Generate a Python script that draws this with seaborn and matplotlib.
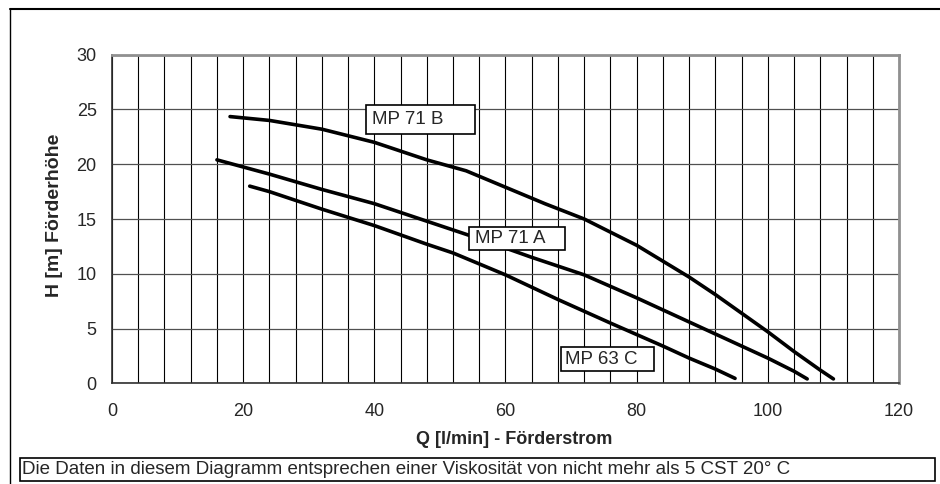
import numpy as np
import pandas as pd
import seaborn as sns
import matplotlib.pyplot as plt
from matplotlib.ticker import MultipleLocator
from matplotlib.patches import Rectangle
from matplotlib.lines import Line2D

# pump curves
q_b = [18, 24, 32, 40, 48, 54, 60, 66, 72, 80, 88, 92, 96, 100, 104, 108, 110]
h_b = [24.35, 24.0, 23.2, 22.0, 20.4, 19.4, 17.9, 16.4, 15.0, 12.6, 9.7, 8.1, 6.4, 4.7, 2.9, 1.2, 0.4]
q_a = [16, 24, 32, 40, 48, 56, 64, 72, 80, 88, 92, 96, 100, 104, 106]
h_a = [20.4, 19.1, 17.7, 16.4, 14.8, 13.2, 11.5, 9.9, 7.8, 5.6, 4.5, 3.4, 2.3, 1.1, 0.4]
q_c = [21, 24, 32, 40, 48, 52, 60, 68, 76, 80, 84, 88, 92, 95]
h_c = [18.0, 17.5, 15.9, 14.4, 12.7, 11.9, 9.9, 7.65, 5.5, 4.45, 3.4, 2.3, 1.3, 0.45]

pumps = ['MP 71 B', 'MP 71 A', 'MP 63 C']

x_ticks = [0, 20, 40, 60, 80, 100, 120]
y_ticks = [0, 5, 10, 15, 20, 25, 30]
note = 'Die Daten in diesem Diagramm entsprechen einer Viskosität von nicht mehr als 5 CST 20° C'

# label boxes (x0, x1, y0, y1) and text anchor, in data units
label_box = {'MP 71 B': (38.8, 55.4, 22.8, 25.4),
             'MP 71 A': (54.5, 69.0, 12.2, 14.25),
             'MP 63 C': (68.4, 82.7, 1.12, 3.29)}
label_txt = {'MP 71 B': (39.6, 24.1), 'MP 71 A': (55.3, 13.2), 'MP 63 C': (69.0, 2.2)}

df = pd.concat([
    pd.DataFrame({'Q': q_b, 'H': h_b, 'Pumpe': 'MP 71 B'}),
    pd.DataFrame({'Q': q_a, 'H': h_a, 'Pumpe': 'MP 71 A'}),
    pd.DataFrame({'Q': q_c, 'H': h_c, 'Pumpe': 'MP 63 C'}),
])

sns.set_style('white')
plt.rcParams['font.family'] = ['Liberation Sans', 'DejaVu Sans']

fig = plt.figure(figsize=(9.4, 4.84), dpi=100)
ax = fig.add_axes([112 / 940, 1 - 383.3 / 484, (899 - 112) / 940, (383.3 - 54.7) / 484])

for p in pumps:
    sns.lineplot(data=df[df['Pumpe'] == p], x='Q', y='H', color='black',
                 linewidth=2.6, ax=ax, legend=False, solid_capstyle='round',
                 solid_joinstyle='round')

ax.set_xlim(0, 120)
ax.set_ylim(0, 30)
ax.set_xticks(x_ticks)
ax.set_yticks(y_ticks)
ax.xaxis.set_minor_locator(MultipleLocator(4))
ax.grid(which='minor', axis='x', color='black', linewidth=0.8)
ax.grid(which='major', axis='x', color='black', linewidth=0.8)
ax.grid(which='major', axis='y', color='#505050', linewidth=0.9)
ax.set_axisbelow(True)
ax.tick_params(axis='both', which='major', direction='out', length=5, width=0.8,
               color='black', labelsize=13)
ax.tick_params(axis='x', which='major', pad=9)
ax.tick_params(axis='y', which='major', pad=6)
ax.tick_params(axis='x', which='minor', length=0)

for side in ['left', 'bottom']:
    ax.spines[side].set_color('#303030')
    ax.spines[side].set_linewidth(1.2)
for side in ['top', 'right']:
    ax.spines[side].set_color('#909090')
    ax.spines[side].set_linewidth(2)

ax.set_xlabel('Q [l/min] - Förderstrom', fontsize=13, fontweight='bold')
ax.set_ylabel('H [m] Förderhöhe', fontsize=14, fontweight='bold')
ax.xaxis.set_label_coords(0.511, -0.145)
ax.yaxis.set_label_coords(-0.062, 0.51)

for p in pumps:
    x0, x1, y0, y1 = label_box[p]
    ax.add_patch(Rectangle((x0, y0), x1 - x0, y1 - y0, facecolor='white',
                           edgecolor='black', linewidth=1.2, zorder=5))
    tx, ty = label_txt[p]
    ax.text(tx, ty, p, fontsize=13.5, va='center', ha='left', zorder=6)

# outer frame
fig.add_artist(Line2D([10 / 940, 10 / 940], [0, 1 - 9 / 484], color='black', linewidth=1))
fig.add_artist(Line2D([10 / 940, 1], [1 - 9 / 484, 1 - 9 / 484], color='black', linewidth=1.5))

# footnote box
fig.add_artist(Rectangle((20 / 940, 1 - 481 / 484), 915 / 940, 23 / 484,
                         transform=fig.transFigure, facecolor='white',
                         edgecolor='black', linewidth=1.2))
fig.text(22 / 940, 1 - 470 / 484, note, fontsize=13.5, va='center', ha='left')

fig.savefig('out.png', dpi=100)
